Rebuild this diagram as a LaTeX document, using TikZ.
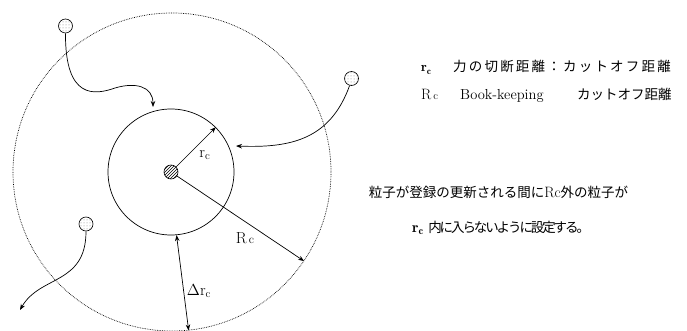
\documentclass[tikz,border=0pt]{standalone}
\usepackage{fix-cm}
\usepackage{fontspec}
\newfontfamily\jp{Noto Sans CJK JP}
\usetikzlibrary{arrows.meta,patterns}
\newcommand\lsp{\hspace{2.2pt}}
\newcommand\nsp{\hspace{-2.1pt}}
\tikzset{
  arr/.style={-{Stealth[length=6pt,width=4.5pt]}, line width=0.7pt},
  darr/.style={{Stealth[length=6pt,width=4.5pt]}-{Stealth[length=6pt,width=4.5pt]}, line width=0.7pt},
  particle/.style={circle,draw,line width=0.6pt,minimum size=14pt,inner sep=0pt,pattern=dots,pattern color=gray},
  ring/.style={circle,draw,line width=0.7pt,inner sep=0pt},
  lab/.style={font=\fontsize{16}{18}\selectfont, inner sep=0pt},
  txt/.style={font=\fontsize{13.5}{16}\selectfont, inner sep=0pt, anchor=base west},
}
\begin{document}
\begin{tikzpicture}[x=1pt,y=-1pt]
\useasboundingbox (0,0) rectangle (687,331);
% circles
\node[ring,densely dotted,line width=0.7pt,minimum size=318pt] (outer) at (172,172) {};
\node[ring,minimum size=126pt] (inner) at (171,172) {};
\node[circle,draw,line width=0.6pt,minimum size=14pt,inner sep=0pt,pattern=north east lines] (c) at (171,172) {};
% radii
\draw[arr] (c) -- (inner.45);
\draw[arr] (c) -- (outer.-34.6);
\draw[darr] (inner.-85.5) -- (outer.-84.6);
\node[lab] (lrc) at (205,155) {$\mathrm{r_c}$};
\node[lab] (lRc) at (245,238) {R\hspace{2pt}{\fontsize{12}{14}\selectfont c}};
\node[lab] (ldr) at (199,291) {$\Delta\mathrm{r_c}$};
% particles
\node[particle] (p1) at (65.5,26) {};
\node[particle] (p2) at (351.5,78.5) {};
\node[particle] (p3) at (86,224) {};
\coordinate (e1) at (153,107);
\coordinate (e2) at (236,146);
\coordinate (e3) at (20,310);
\draw[arr] (p1.south) .. controls (65,100) and (95,95) .. (115,88) .. controls (135,82) and (153,86) .. (e1);
\draw[arr] (p2.-105) .. controls (330,140) and (290,148) .. (e2);
\draw[arr] (p3.south) .. controls (86,285) and (40,275) .. (e3);
% texts
\node[txt] (t1a) at (421,72) {$\mathbf{r}_{\mathbf{c}}$};
\node[txt] (t1b) at (453,72) {\jp 力\lsp の\lsp 切\lsp 断\lsp 距\lsp 離\lsp ：\lsp カ\lsp ッ\lsp ト\lsp オ\lsp フ\lsp 距\lsp 離};
\node[txt] (t2a) at (421,100) {\fontsize{15}{17}\selectfont R\hspace{2pt}{\fontsize{11}{13}\selectfont c}};
\node[txt] (t2b) at (460,100) {\fontsize{14.5}{17}\selectfont Book-keeping};
\node[txt] (t2c) at (577,100) {\jp カットオフ距離};
\node[txt,anchor=base] (t3) at (498.5,197) {\jp 粒子が登録の更新される間に\rmfamily\fontsize{15}{17}\selectfont Rc\jp\fontsize{13.5}{16}\selectfont 外の粒子が};
\node[txt] (t4) at (412,232) {\fontsize{15}{17}\selectfont$\mathbf{r}_{\mathbf{c}}$ \jp\fontsize{13.5}{16}\selectfont 内\nsp に\nsp 入\nsp ら\nsp な\nsp い\nsp よ\nsp う\nsp に\nsp 設\nsp 定\nsp す\nsp る\nsp 。};
\end{tikzpicture}
\end{document}
